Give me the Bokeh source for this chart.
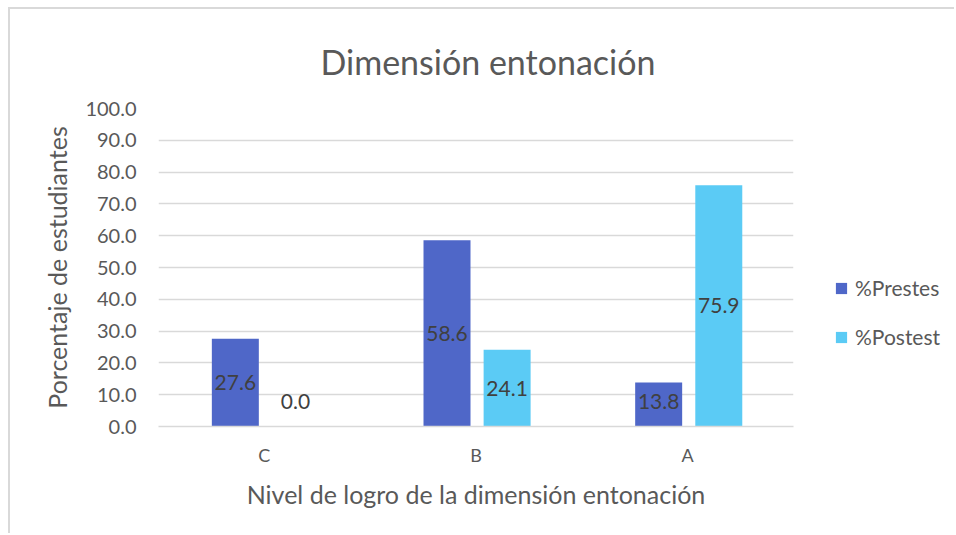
import numpy as np
from bokeh.plotting import figure
from bokeh.layouts import row
from bokeh.models import (ColumnDataSource, FactorRange, Range1d, Legend, LegendItem, FixedTicker,
                          NumeralTickFormatter, Title)
from bokeh.transform import dodge
from bokeh.core.properties import value
from bokeh.embed import file_html
from bokeh.resources import INLINE

categories = ["C", "B", "A"]
prestes = [27.6, 58.6, 13.8]
postest = [0.0, 24.1, 75.9]
series_names = ["%Prestes", "%Postest"]
y_ticks = [0, 10, 20, 30, 40, 50, 60, 70, 80, 90, 100]

FONT = "Lato"
TXT = "#595959"
C_PRE = "#4F67C8"
C_POST = "#5BCBF5"

pre = np.array(prestes)
post = np.array(postest)
src = ColumnDataSource(dict(
    cat=categories,
    pre=pre, post=post,
    pre_y=np.maximum(pre / 2, 8.0), post_y=np.maximum(post / 2, 8.0),
    pre_t=[f"{v:.1f}" for v in pre], post_t=[f"{v:.1f}" for v in post],
))

p = figure(width=803, height=524, x_range=FactorRange(*categories, range_padding=0),
           y_range=Range1d(0, 100), output_backend="svg", toolbar_location=None,
           min_border_left=148, min_border_right=20, min_border_top=99, min_border_bottom=107)

p.title = Title(text="Dimensión entonación", align="left", text_font=FONT,
                text_font_size="34px", text_font_style="normal", text_color=TXT,
                offset=162, standoff=54)

r1 = p.vbar(x=dodge("cat", -0.137, range=p.x_range), top="pre", width=0.222, source=src,
            fill_color=C_PRE, line_color=None)
r2 = p.vbar(x=dodge("cat", 0.147, range=p.x_range), top="post", width=0.222, source=src,
            fill_color=C_POST, line_color=None)

p.text(x=dodge("cat", -0.137, range=p.x_range), y="pre_y", text="pre_t", source=src,
       text_font=value(FONT), text_font_size="21px", text_color="#404040",
       text_align="center", text_baseline="middle")
p.text(x=dodge("cat", 0.147, range=p.x_range), y="post_y", text="post_t", source=src,
       text_font=value(FONT), text_font_size="21px", text_color="#404040",
       text_align="center", text_baseline="middle")

p.xgrid.grid_line_color = None
p.ygrid.grid_line_color = "#D9D9D9"
p.ygrid.grid_line_width = 1.5
p.outline_line_color = None

p.yaxis.ticker = FixedTicker(ticks=y_ticks)
p.yaxis.formatter = NumeralTickFormatter(format="0.0")
p.yaxis.axis_line_color = None
p.yaxis.major_tick_line_color = None
p.yaxis.minor_tick_line_color = None
p.yaxis.major_label_standoff = 16
p.yaxis.major_label_text_font = FONT
p.yaxis.major_label_text_font_size = "20px"
p.yaxis.major_label_text_color = TXT
p.yaxis.axis_label = "Porcentaje de estudiantes"
p.yaxis.axis_label_text_font = FONT
p.yaxis.axis_label_text_font_size = "25px"
p.yaxis.axis_label_text_font_style = "normal"
p.yaxis.axis_label_text_color = TXT
p.yaxis.axis_label_standoff = 10

xa = p.below[0]
xa.axis_line_color = "#D9D9D9"
xa.axis_line_width = 1.5
xa.major_tick_line_color = None
xa.minor_tick_line_color = None
xa.major_label_standoff = 11
xa.major_label_text_font = FONT
xa.major_label_text_font_size = "18px"
xa.major_label_text_color = TXT
xa.axis_label = "Nivel de logro de la dimensión entonación"
xa.axis_label_text_font = FONT
xa.axis_label_text_font_size = "25px"
xa.axis_label_text_font_style = "normal"
xa.axis_label_text_color = TXT
xa.axis_label_standoff = 10

# legend panel to the right of the plot area
q = figure(width=141, height=524, x_range=Range1d(0, 1), y_range=Range1d(0, 1),
           output_backend="svg", toolbar_location=None,
           min_border_left=0, min_border_right=0, min_border_top=0, min_border_bottom=0)
q.axis.visible = False
q.grid.visible = False
q.outline_line_color = None
k1 = q.vbar(x=[0], top=[0], width=0, fill_color=C_PRE, line_color=None)
k2 = q.vbar(x=[0], top=[0], width=0, fill_color=C_POST, line_color=None)
legend = Legend(items=[LegendItem(label=series_names[0], renderers=[k1]),
                       LegendItem(label=series_names[1], renderers=[k2])],
                location=(21, 77), padding=0, margin=0, spacing=24,
                glyph_width=14, glyph_height=14, label_height=24, label_standoff=7,
                label_text_font=FONT, label_text_font_size="21px", label_text_color=TXT,
                border_line_color=None, background_fill_alpha=0)
q.add_layout(legend, "center")

layout = row(p, q, spacing=0,
             styles={"border-top": "2px solid #D9D9D9", "border-left": "2px solid #D9D9D9",
                     "margin-left": "8px", "margin-top": "7px"})

open("out.html", "w").write(file_html(layout, INLINE))
